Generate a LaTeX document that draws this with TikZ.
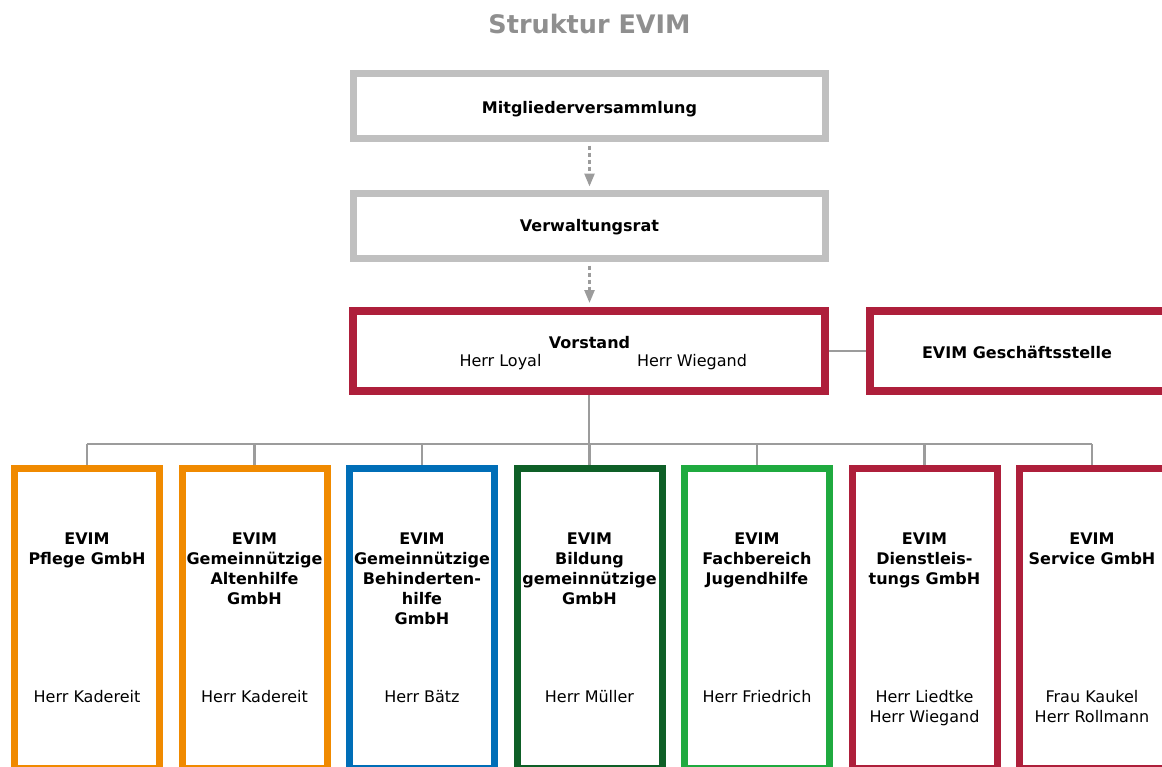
\documentclass[tikz,border=0pt]{standalone}
\usepackage{fontspec}
\setmainfont{DejaVu Sans}
\usetikzlibrary{arrows.meta,backgrounds}
\definecolor{boxgray}{HTML}{C0C0C0}
\definecolor{linegray}{HTML}{9C9C9C}
\definecolor{titlegray}{HTML}{8F8F8F}
\definecolor{evred}{HTML}{AE1F3B}
\definecolor{evorange}{HTML}{F08A00}
\definecolor{evblue}{HTML}{006EB7}
\definecolor{evdkgreen}{HTML}{0E5F27}
\definecolor{evltgreen}{HTML}{1FAA3F}
\tikzset{
  graybox/.style={draw=boxgray, line width=7pt, fill=white, rectangle, inner sep=0pt},
  redbox/.style={draw=evred, line width=8pt, fill=white, rectangle, inner sep=0pt},
  unitbox/.style={draw=#1, line width=7pt, fill=white, rectangle, inner sep=0pt,
     minimum width=145pt, minimum height=300pt},
  conn/.style={draw=linegray, line width=2.5pt},
  dasharrow/.style={draw=linegray, line width=2.5pt, dash pattern=on 4pt off 3pt,
     -{Triangle[width=10pt,length=13pt]}},
  bt/.style={font=\fontsize{16}{20}\selectfont\bfseries, inner sep=0pt, align=center},
  nt/.style={font=\fontsize{16}{20}\selectfont, inner sep=0pt, align=center},
}
\begin{document}
\begin{tikzpicture}[x=1pt,y=-1pt]
\useasboundingbox (0,0) rectangle (1162,766);
\clip (0,0) rectangle (1162,766);

% title
\node[font=\fontsize{25.5}{30}\selectfont\bfseries, text=titlegray, inner sep=0pt] (title) at (589.5,23.5) {Struktur EVIM};

% top boxes
\node[graybox, minimum width=472pt, minimum height=65pt] (mv) at (589.5,106) {};
\node[bt, anchor=base] (mvt) at (589.5,113) {Mitgliederversammlung};
\node[graybox, minimum width=472pt, minimum height=65pt] (vr) at (589.5,226) {};
\node[bt, anchor=base] (vrt) at (589.5,231.5) {Verwaltungsrat};
\node[redbox, minimum width=472pt, minimum height=80pt] (vo) at (589,351) {};
\node[bt, anchor=base] (vot) at (589.5,348.3) {Vorstand};
\node[nt, anchor=base] (vol) at (500.5,366.7) {Herr Loyal};
\node[nt, anchor=base] (vow) at (692,366.7) {Herr Wiegand};
\node[redbox, minimum width=310pt, minimum height=80pt] (gs) at (1025,351) {};
\node[bt, anchor=base] (gst) at (1017,358.3) {EVIM Geschäftsstelle};

% bottom boxes
\node[unitbox=evorange]  (b1) at (87,618.5) {};
\node[unitbox=evorange]  (b2) at (254.5,618.5) {};
\node[unitbox=evblue]    (b3) at (422,618.5) {};
\node[unitbox=evdkgreen] (b4) at (589.5,618.5) {};
\node[unitbox=evltgreen] (b5) at (757,618.5) {};
\node[unitbox=evred]     (b6) at (924.5,618.5) {};
\node[unitbox=evred, minimum width=160pt] (b7) at (1099.5,618.5) {};

\node[bt, anchor=north] (t1) at (87,532.3) {EVIM\\Pflege GmbH};
\node[bt, anchor=north] (t2) at (254.5,532.3) {EVIM\\Gemeinnützige\\Altenhilfe\\GmbH};
\node[bt, anchor=north] (t3) at (422,532.3) {EVIM\\Gemeinnützige\\Behinderten-\\hilfe\\GmbH};
\node[bt, anchor=north] (t4) at (589.5,532.3) {EVIM\\Bildung\\gemeinnützige\\GmbH};
\node[bt, anchor=north] (t5) at (757,532.3) {EVIM\\Fachbereich\\Jugendhilfe};
\node[bt, anchor=north] (t6) at (924.5,532.3) {EVIM\\Dienstleis-\\tungs GmbH};
\node[bt, anchor=north] (t7) at (1092,532.3) {EVIM\\Service GmbH};

\node[nt, anchor=north] (n1) at (87,690) {Herr Kadereit};
\node[nt, anchor=north] (n2) at (254.5,690) {Herr Kadereit};
\node[nt, anchor=north] (n3) at (422,690) {Herr Bätz};
\node[nt, anchor=north] (n4) at (589.5,690) {Herr Müller};
\node[nt, anchor=north] (n5) at (757,690) {Herr Friedrich};
\node[nt, anchor=north] (n6) at (924.5,690) {Herr Liedtke\\Herr Wiegand};
\node[nt, anchor=north] (n7) at (1092,690) {Frau Kaukel\\Herr Rollmann};

% arrows
\draw[dasharrow, shorten <=3.5pt, shorten >=3.5pt] (mv.south) -- (vr.north);
\draw[dasharrow, shorten <=3.5pt, shorten >=4pt] (vr.south) -- (vo.north -| vr.south);

% tree connectors
\coordinate (bus) at (589.5,444);
\begin{pgfonlayer}{background}
\draw[conn] (vo.east) -- (vo.east -| gs.west);
\draw[conn] (vo.south) -- (vo.south |- bus);
\draw[conn] (b1.north |- bus) -- (t7.north |- bus);
\foreach \b in {b1,b2,b3,b4,b5,b6}{
  \draw[conn] (\b.north |- bus) -- (\b.north);
}
\draw[conn] (t7.north |- bus) -- (t7.north |- b7.north);
\end{pgfonlayer}
\end{tikzpicture}
\end{document}
